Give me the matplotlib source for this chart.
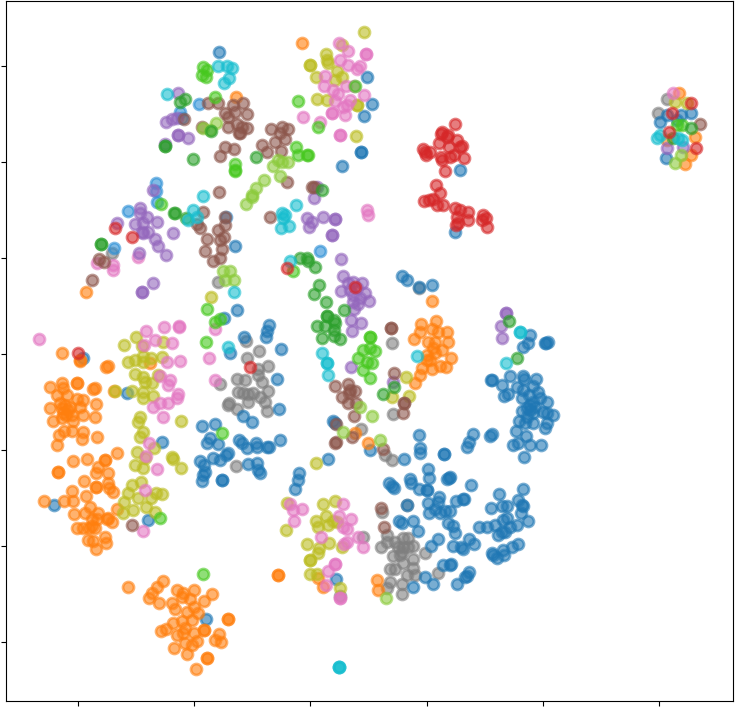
import matplotlib
matplotlib.use('Agg')
import matplotlib.pyplot as plt

# embedding values (axis units are arbitrary, labels are hidden)
xticks = [-232, -116, 0, 117, 233, 349]
yticks = [-288, -192, -96, 0, 96, 192, 288]

blue = [(94,-105),(110,-94),(110,-99),(134,-100),(134,-100),(118,-115),(119,-124),(100,-125),(101,-129),
        (79,-129),(82,-132),(84,-134),(109,-135),(117,-136),(117,-136),(137,-125),(140,-123),(139,-124),
        (161,-131),(129,-143),(118,-149),(128,-148),(97,-151),(146,-147),(153,-145),(154,-145),(125,-155),
        (119,-159),(130,-159),(135,-157),(140,-157),(89,-167),(92,-169),(103,-167),(108,-177),(138,-169),
        (143,-172),(145,-179),(128,-185),(121,-192),(143,-192),(151,-193),(153,-195),(159,-185),(164,-190),
        (169,-173),(177,-173),(185,-171),(189,-140),(213,-135),(208,-146),(212,-151),(213,-152),(181,-154),
        (192,-152),(197,-152),(211,-159),(218,-167),(207,-171),(197,-164),(193,-166),(188,-181),(192,-178),
        (195,-178),(200,-173),(182,-199),(183,-201),(187,-204),(193,-196),(194,-201),(202,-193),(208,-190),
        (133,-211),(140,-211),(141,-210),(115,-223),(123,-230),(103,-233),(147,-230),(155,-223),(157,-222),
        (159,-218),(92,78),(97,74),(109,67),(122,69),(220,19),(218,11),(213,7),(235,11),(238,12),(236,11),
        (182,-26),(181,-26),(192,-31),(200,-22),(194,-42),(198,-40),(213,-22),(214,-25),(226,-25),(207,-33),
        (213,-36),(223,-32),(228,-38),(212,-44),(219,-41),(230,-44),(223,-48),(237,-48),(212,-57),(220,-56),
        (223,-59),(233,-58),(243,-61),(237,-59),(209,-67),(215,-69),(223,-69),(237,-69),(235,-74),(206,-77),
        (216,-82),(220,-51),(217,-54),(225,-53),(217,-63),(203,-91),(208,-89),(220,-91),(231,-91),(214,-103),
        (180,-82),(182,-80),(163,-80),(159,-88),(157,-93),(109,-81),(60,-96),(-75,108),(-41,29),(-43,23),
        (-44,17),(-66,17),(-86,36),(-73,44),(-29,5),(-80,1),(-33,-25),(-31,-55),(-67,-62),(-58,-68),(-108,-72),
        (-95,-70),(-100,-84),(-103,-89),(-92,-90),(-71,-86),(-68,-89),(-63,-94),(-54,-89),(-53,-93),(-43,-93),
        (-41,-93),(-30,-86),(-82,-99),(-84,-101),(-97,-104),(-90,-106),(-110,-107),(-106,-111),(-105,-118),
        (-107,-121),(-108,-127),(-88,-126),(-88,-126),(-62,-110),(-53,-109),(-52,-116),(-50,-119),(-11,-119),
        (-12,-126),(-15,-135),(18,-105),(23,-67),(25,-69),(26,-225),(-183,-39),(-227,-4),(-148,-88),(-256,-151),
        (-162,-166),(-104,-265),(-91,302),(57,277),(62,250),(54,238),(51,202),(51,202),(32,188),(150,184),
        (145,122),(350,232),(356,196),(357,239),(371,239),(381,241),(367,234)]

sky = [(-196,106),(10,103),(-111,250),(-130,242),(-128,236),(-154,171),(-154,163),(-153,152),(-182,143),(-84,137)]

gray = [(-92,72),(-64,13),(-51,3),(-63,-4),(-42,-12),(-52,-15),(-52,-21),(-73,-25),(-65,-26),(-48,-28),(-72,-38),
        (-67,-39),(-62,-40),(-57,-39),(-42,-37),(-50,-43),(-62,-48),(-81,-49),(-82,-51),(-45,-48),(-73,-55),
        (-43,-57),(-90,-30),(51,-75),(-74,-112),(-198,101),(82,11),(83,-60),(109,66),(75,-101),(82,-106),(97,-151),
        (72,-158),(77,-181),(71,-193),(85,-188),(77,-188),(93,-184),(98,-184),(88,-193),(93,-193),(98,-193),
        (103,-192),(92,-198),(83,-202),(90,-201),(103,-205),(115,-199),(93,-209),(103,-214),(80,-215),(85,-215),
        (97,-221),(105,-221),(80,-228),(77,-234),(92,-230),(92,-240),(128,-219),(53,-183),(30,-242),(348,241),(357,255)]

orange = [(-224,62),(-248,1),(-230,-7),(-230,-6),(-204,-13),(-202,-12),(-233,-29),(-233,-29),(-215,-34),(-217,-35),
          (-196,-37),(-260,-33),(-248,-29),(-247,-34),(-253,-41),(-243,-41),(-233,-45),(-227,-46),(-214,-50),(-260,-54),
          (-250,-49),(-248,-54),(-247,-59),(-240,-53),(-230,-53),(-257,-67),(-248,-64),(-238,-61),(-237,-67),(-227,-61),
          (-215,-63),(-246,-77),(-238,-77),(-227,-78),(-228,-85),(-251,-81),(-253,-91),(-213,-83),(-245,-51),(-242,-56),
          (-244,-61),(-193,-99),(-223,-105),(-237,-107),(-205,-106),(-205,-106),(-212,-113),(-214,-119),(-202,-119),
          (-252,-118),(-252,-118),(-226,-127),(-214,-133),(-214,-133),(-202,-129),(-201,-134),(-197,-138),(-238,-137),
          (-224,-142),(-266,-147),(-246,-147),(-237,-147),(-236,-160),(-225,-159),(-220,-153),(-212,-159),(-218,-165),
          (-213,-165),(-203,-165),(-198,-168),(-202,-164),(-193,-155),(-233,-174),(-227,-174),(-221,-174),(-215,-174),
          (-218,-172),(-222,-186),(-217,-187),(-205,-183),(-204,-189),(-214,-195),(-182,-233),(-147,-227),(-153,-233),
          (-158,-239),(-161,-244),(-151,-249),(-133,-236),(-127,-239),(-128,-243),(-116,-236),(-98,-240),(-106,-247),
          (-120,-245),(-138,-249),(-135,-255),(-123,-258),(-116,-253),(-112,-259),(-118,-266),(-128,-267),(-137,-269),
          (-82,-265),(-82,-265),(-106,-276),(-106,-276),(-149,-277),(-144,-275),(-133,-281),(-127,-279),(-125,-274),
          (-116,-279),(-91,-280),(-95,-286),(-89,-288),(-113,-287),(-118,-291),(-125,-289),(-136,-294),(-123,-300),
          (-103,-304),(-103,-304),(-114,-315),(-32,-221),(-32,-221),(8,-224),(13,-233),(67,-226),(68,-236),(-8,311),
          (-74,257),(122,53),(126,33),(111,30),(110,22),(122,25),(128,22),(137,22),(104,15),(118,12),(125,12),(138,12),
          (117,-1),(125,1),(132,4),(123,6),(141,-4),(112,-14),(110,-21),(122,-15),(130,-12),(136,-13),(105,-29),(120,-6),
          (117,-6),(58,-89),(45,-79),(-160,-9),(369,261),(375,190),(385,217),(381,199),(357,214)]

red = [(-60,-13),(-23,86),(45,67),(145,230),(131,220),(132,222),(137,217),(138,219),(147,214),(129,211),(152,208),
       (150,207),(113,205),(116,199),(115,202),(120,202),(139,207),(131,197),(132,194),(140,197),(144,199),(154,196),
       (135,183),(126,169),(130,161),(114,153),(119,154),(123,155),(127,149),(133,149),(145,146),(150,144),(158,142),
       (147,137),(148,131),(146,129),(158,134),(173,139),(176,136),(172,134),(177,127),(-195,126),(-178,117),(-232,1),
       (362,241),(359,222),(386,206),(381,251)]

green = [(-130,252),(-125,255),(-145,208),(-145,208),(-99,223),(-117,195),(-136,141),(-135,141),(-124,136),(-209,110),
         (-209,110),(-54,197),(12,164),(-10,96),(-3,96),(-2,93),(5,87),(9,69),(4,60),(16,52),(34,44),(17,38),(17,38),
         (24,34),(25,31),(7,28),(15,28),(24,24),(24,18),(12,16),(30,15),(73,-40),(199,33),(207,-4),(84,-33),(381,226),(363,216)]

lime = [(-107,287),(-103,284),(-108,279),(-104,277),(-95,257),(-75,190),(-75,184),(-75,183),(-149,150),(-12,253),(8,227),
        (45,268),(-14,207),(-12,199),(-3,199),(-2,199),(-103,45),(-95,32),(-90,35),(-104,12),(-17,83),(-88,-79),(60,17),
        (60,17),(53,4),(60,6),(65,3),(48,-4),(62,-9),(57,-8),(53,-16),(60,-24),(-150,-164),(-107,-220),(372,229),(367,229)]

light_green = [(-37,188),(-32,194),(-28,192),(-22,192),(-30,178),(-46,174),(-54,166),(-58,159),(-58,157),(-64,150),
               (-107,226),(-100,224),(-94,231),(-87,83),(-80,83),(-76,74),(-85,74),(50,-53),(62,-62),(33,-78),(70,-86),
               (76,-244),(365,191),(371,199)]

purple = [(-132,261),(-144,232),(-138,235),(-133,236),(-132,219),(-132,219),(-122,216),(-145,210),(-157,164),(-193,131),
          (-170,146),(-170,141),(-163,137),(-153,132),(-175,130),(-167,131),(-168,122),(-162,122),(-137,121),(-155,115),
          (-152,108),(-144,99),(-171,101),(-157,71),(-168,62),(-168,62),(-167,121),(7,167),(4,156),(13,137),(25,135),
          (25,135),(22,119),(22,119),(-3,136),(2,132),(-1,127),(31,95),(33,78),(38,71),(43,72),(52,71),(31,63),(40,64),
          (47,66),(55,61),(43,59),(50,56),(59,53),(43,52),(48,50),(44,45),(41,34),(51,31),(42,23),(41,-13),(196,41),
          (196,41),(191,28),(192,16),(83,-28),(357,206),(373,207)]

brown = [(-102,251),(-92,251),(-77,249),(-67,251),(-85,241),(-82,237),(-75,242),(-63,240),(-108,227),(-82,227),(-73,230),
         (-71,221),(-63,226),(-85,207),(-76,205),(-90,198),(-126,235),(-91,162),(-107,142),(-85,137),(-113,130),(-110,126),
         (-92,124),(-85,129),(-103,115),(-86,117),(-105,103),(-90,114),(-88,105),(-90,96),(-97,93),(-211,95),(-206,92),
         (-218,74),(-68,227),(-70,221),(-39,225),(-28,227),(-22,225),(-30,221),(-35,212),(-25,215),(-48,209),(-43,202),
         (-29,203),(-23,172),(2,167),(4,167),(-40,137),(25,-32),(38,-30),(45,-37),(39,-39),(40,-36),(32,-43),(38,-49),
         (46,-49),(44,-62),(26,-70),(26,-88),(25,-89),(42,-83),(73,-95),(81,26),(81,26),(84,-19),(94,-49),(94,-49),
         (93,-59),(71,-154),(74,-173),(-178,-171),(390,230)]

pink = [(29,311),(38,303),(56,300),(56,300),(30,294),(38,289),(50,288),(47,285),(15,278),(14,268),(23,264),(36,268),
        (44,268),(54,259),(28,260),(25,253),(40,254),(37,249),(33,247),(22,241),(22,241),(35,239),(-7,237),(10,232),
        (30,219),(30,219),(57,144),(58,139),(-271,15),(-164,23),(-146,27),(-131,28),(-131,27),(-155,14),(-138,11),
        (-166,9),(-130,-7),(-143,-8),(-150,-22),(-140,-26),(-142,-31),(-132,-40),(-133,-44),(-142,-49),(-150,-49),
        (-157,-53),(-147,-63),(-161,-89),(-164,-102),(-153,-115),(-95,25),(-101,-4),(-95,-26),(-213,91),(-197,89),
        (-197,84),(-172,97),(-165,-136),(-167,-177),(-20,-150),(-17,-156),(-8,-155),(-16,-167),(33,-150),(29,-162),
        (41,-165),(33,-173),(37,-175),(11,-183),(48,-183),(53,-193),(37,-188),(34,-190),(25,-210),(25,-210),(18,-217),
        (16,-231),(30,-244),(30,-244),(363,261)]

olive = [(54,322),(32,309),(16,300),(17,294),(18,291),(0,289),(0,289),(27,283),(25,274),(32,277),(6,277),(7,255),(17,254),
         (47,249),(47,249),(46,218),(-174,17),(-186,9),(-168,8),(-147,12),(-182,-8),(-175,-6),(-167,-2),(-159,-4),(-148,-3),
         (-167,-8),(-175,-20),(-167,-23),(-152,-21),(-165,-28),(-158,-29),(-178,-37),(-167,-38),(-167,-44),(-157,-42),
         (-170,-63),(-172,-68),(-167,-78),(-170,-83),(-156,-94),(-173,-98),(-138,-103),(-137,-105),(-129,-67),(-175,-111),
         (-167,-114),(-165,-104),(-129,-114),(-178,-131),(-169,-128),(-182,-139),(-186,-148),(-172,-144),(-159,-144),
         (-154,-139),(-148,-140),(-177,-156),(-187,-159),(-164,-153),(-155,-158),(-195,-37),(-24,-176),(-23,-149),(13,-150),
         (25,-147),(6,-167),(16,-162),(8,-173),(18,-171),(23,-167),(27,-168),(-3,-190),(19,-189),(9,-194),(8,-199),(0,-206),
         (0,-206),(0,-220),(7,-220),(32,-193),(30,-234),(6,-109),(-99,57),(96,-23),(82,-43),(99,-42),(377,251),(365,252)]

cyan = [(-92,288),(-83,288),(-78,286),(-81,276),(-86,271),(-143,260),(-107,158),(-117,144),(-122,134),(-113,137),(-14,149),
        (-28,141),(-27,136),(-25,139),(-29,126),(-21,128),(-76,62),(-82,7),(-20,93),(12,1),(17,-9),(17,-9),(18,-21),(107,-2),
        (210,22),(210,22),(196,-9),(29,-313),(29,-313),(29,-313),(347,216),(350,219),(372,214),(368,216)]

groups = [(gray, '#7f7f7f'), (blue, '#1f77b4'), (sky, '#2b8fd6'), (orange, '#ff7f0e'), (olive, '#bcbd22'),
          (pink, '#e377c2'), (purple, '#9467bd'), (brown, '#8c564b'), (light_green, '#8ccb3c'), (lime, '#46c81e'),
          (green, '#2ca02c'), (cyan, '#17becf'), (red, '#d62728')]


def draw(ax):
    for pts, col in groups:
        x, y = zip(*pts)
        ax.scatter(x, y, s=62, c=col, edgecolors=col, linewidths=2, alpha=0.6)

    ax.set_xlim(-304, 423)
    ax.set_ylim(-347, 353)
    ax.set_xticks(xticks)
    ax.set_yticks(yticks)
    ax.set_xticklabels([])
    ax.set_yticklabels([])


if __name__ == "__main__":
    fig = plt.figure(figsize=(7.38, 7.07), dpi=100)
    ax = fig.add_axes([6 / 738, 6 / 707, 727 / 738, 700 / 707])
    draw(ax)
    fig.savefig('out.png', dpi=100)
